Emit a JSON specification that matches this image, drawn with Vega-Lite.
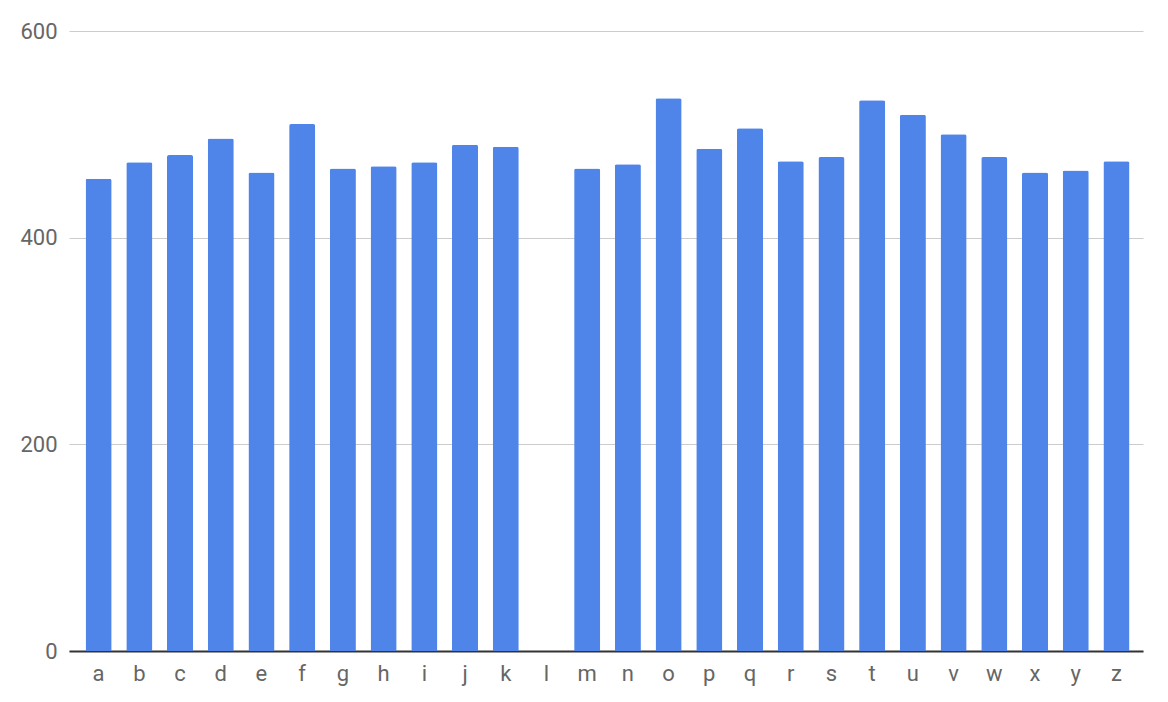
{
  "$schema": "https://vega.github.io/schema/vega-lite/v6.json",
  "width": 1074,
  "height": 620,
  "autosize": "none",
  "padding": {"left": 69, "top": 31, "right": 25, "bottom": 51},
  "background": "white",
  "data": {
    "values": [
      {"letter": "a", "count": 457},
      {"letter": "b", "count": 473},
      {"letter": "c", "count": 480},
      {"letter": "d", "count": 496},
      {"letter": "e", "count": 463},
      {"letter": "f", "count": 510},
      {"letter": "g", "count": 467},
      {"letter": "h", "count": 469},
      {"letter": "i", "count": 473},
      {"letter": "j", "count": 490},
      {"letter": "k", "count": 488},
      {"letter": "l", "count": 0},
      {"letter": "m", "count": 467},
      {"letter": "n", "count": 471},
      {"letter": "o", "count": 535},
      {"letter": "p", "count": 486},
      {"letter": "q", "count": 506},
      {"letter": "r", "count": 474},
      {"letter": "s", "count": 478},
      {"letter": "t", "count": 533},
      {"letter": "u", "count": 519},
      {"letter": "v", "count": 500},
      {"letter": "w", "count": 478},
      {"letter": "x", "count": 463},
      {"letter": "y", "count": 465},
      {"letter": "z", "count": 474}
    ]
  },
  "mark": {"type": "bar", "color": "#4f85e9", "cornerRadiusTopLeft": 2, "cornerRadiusTopRight": 2},
  "encoding": {
    "x": {
      "field": "letter",
      "type": "ordinal",
      "sort": null,
      "scale": {"paddingInner": 0.36, "paddingOuter": 0.37, "align": 0.55},
      "axis": {
        "title": null,
        "labelAngle": 0,
        "ticks": false,
        "domainColor": "#333333",
        "domainWidth": 2,
        "labelPadding": 12,
        "labelFont": "Roboto",
        "labelFontSize": 22,
        "labelColor": "#666666"
      }
    },
    "y": {
      "field": "count",
      "type": "quantitative",
      "scale": {"domain": [0, 600]},
      "axis": {
        "title": null,
        "values": [0, 200, 400, 600],
        "domain": false,
        "ticks": false,
        "gridColor": "#cccccc",
        "labelPadding": 12,
        "labelFont": "Roboto",
        "labelFontSize": 22,
        "labelColor": "#666666"
      }
    }
  },
  "config": {"view": {"stroke": null}}
}
